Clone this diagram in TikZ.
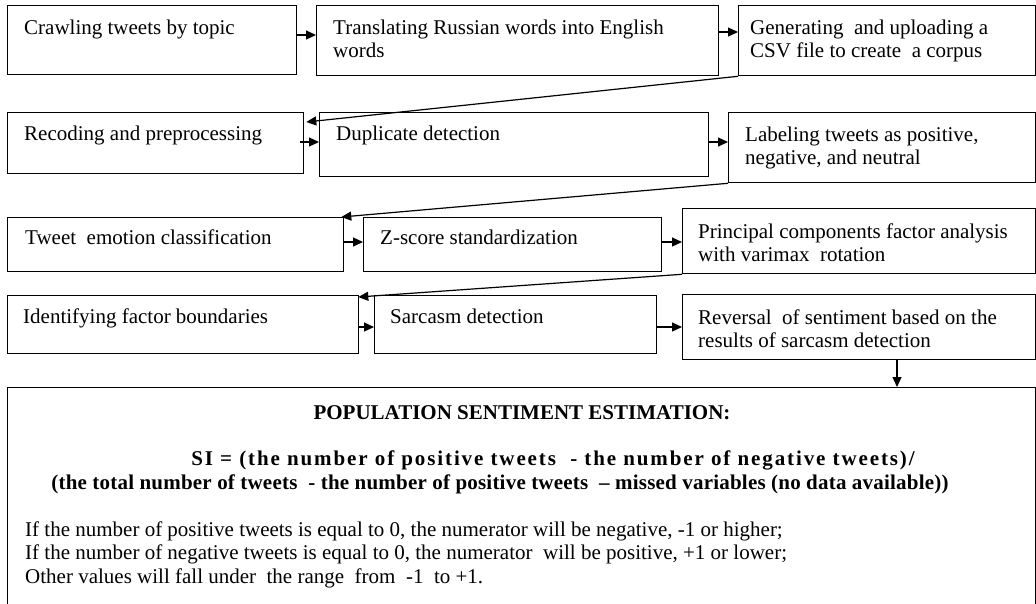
\documentclass[tikz,border=0pt]{standalone}
\usepackage{fontspec}
\setmainfont{Liberation Serif}
\usetikzlibrary{arrows.meta,calc}
\begin{document}
\begin{tikzpicture}[x=1pt,y=-1pt,
  box/.style={draw, line width=1.3pt, rectangle, inner sep=0pt, anchor=north west},
  txt/.style={anchor=base west, inner sep=0pt, font=\fontsize{21}{23}\selectfont},
  ctxt/.style={anchor=base, inner sep=0pt, font=\fontsize{21}{23}\selectfont\bfseries},
  conn/.style={line width=1.2pt, -{Triangle[length=10pt,width=9pt]}}]
\useasboundingbox (0,0) rectangle (1036,603);
\clip (0,0) rectangle (1036,603);
% boxes
\node[box, minimum width=289pt, minimum height=69pt] (A) at (7,5) {};
\node[box, minimum width=402pt, minimum height=70pt] (B) at (316,5) {};
\node[box, minimum width=297pt, minimum height=70pt] (C) at (738,5) {};
\node[box, minimum width=296pt, minimum height=61pt] (D) at (7,112) {};
\node[box, minimum width=389pt, minimum height=64pt] (E) at (319,112) {};
\node[box, minimum width=307pt, minimum height=70pt] (F) at (728,112) {};
\node[box, minimum width=336pt, minimum height=54pt] (G) at (7,217) {};
\node[box, minimum width=298pt, minimum height=54pt] (H) at (363,217) {};
\node[box, minimum width=353pt, minimum height=65pt] (I) at (682,208) {};
\node[box, minimum width=351pt, minimum height=58pt] (J) at (7,295) {};
\node[box, minimum width=282pt, minimum height=58pt] (K) at (374,295) {};
\node[box, minimum width=353pt, minimum height=65pt] (L) at (682,294) {};
\node[box, minimum width=1028pt, minimum height=218pt] (M) at (7,387) {};
% box texts
\node[txt] (tA) at ($(A.north west)+(17,29)$) {Crawling tweets by topic};
\node[txt] (tB) at ($(B.north west)+(17,29)$) {\parbox[t]{380pt}{Translating Russian words into English\\words}};
\node[txt] (tC) at ($(C.north west)+(12,29)$) {\parbox[t]{290pt}{Generating\ \ and uploading a\\CSV file to create\ \ a corpus}};
\node[txt] (tD) at ($(D.north west)+(17,28)$) {Recoding and preprocessing};
\node[txt] (tE) at ($(E.north west)+(17,28)$) {Duplicate detection};
\node[txt] (tF) at ($(F.north west)+(17,29)$) {\parbox[t]{290pt}{Labeling tweets as positive,\\negative, and neutral}};
\node[txt] (tG) at ($(G.north west)+(18,27)$) {Tweet\ \ emotion classification};
\node[txt] (tH) at ($(H.north west)+(17,27)$) {Z-score standardization};
\node[txt] (tI) at ($(I.north west)+(16,30)$) {\parbox[t]{340pt}{Principal components factor analysis\\with varimax\ \ rotation}};
\node[txt] (tJ) at ($(J.north west)+(16,28)$) {Identifying factor boundaries};
\node[txt] (tK) at ($(K.north west)+(16,28)$) {Sarcasm detection};
\node[txt] (tL) at ($(L.north west)+(16,30)$) {\parbox[t]{340pt}{Reversal\ \ of sentiment based on the\\results of sarcasm detection}};
% bottom texts
\node[ctxt] (pop) at (522,419.5) {POPULATION SENTIMENT ESTIMATION:};
\node[ctxt] (si1) at (553,465.5) {\addfontfeature{LetterSpace=9}SI = (the number of positive tweets\ \ - the number of negative tweets)/};
\node[ctxt] (si2) at (500,489) {\addfontfeature{LetterSpace=1}(the total number of tweets\ \ - the number of positive tweets\ \ – missed variables (no data available))};
\node[anchor=base west, inner sep=0pt, font=\fontsize{21}{23.5}\selectfont] (rules) at (25,536) {\parbox[t]{1000pt}{If the number of positive tweets is equal to 0, the numerator will be negative, -1 or higher;\\If the number of negative tweets is equal to 0, the numerator\ \ will be positive, +1 or lower;\\Other values will fall under\ \ the range\ \ from\ \ -1\ \ to +1.}};
% connectors
\draw[conn] ($(A.north east)+(0,30)$) -- ($(B.north west)+(0,30)$);
\draw[conn] ($(B.north east)+(0,27)$) -- ($(C.north west)+(0,27)$);
\draw[conn] (C.south west) -- ($(D.north east)+(2,10)$);
\draw[conn] ($(D.north east)+(-4,30)$) -- ($(E.north west)+(0,30)$);
\draw[conn] ($(E.north east)+(0,30)$) -- ($(F.north west)+(0,30)$);
\draw[conn] (F.south west) -- ($(G.north east)+(-3,0)$);
\draw[conn] ($(G.north east)+(0,25)$) -- ($(H.north west)+(0,25)$);
\draw[conn] ($(H.north east)+(0,25)$) -- ($(I.north west)+(0,34)$);
\draw[conn] (I.south west) -- ($(J.north east)+(-1,2)$);
\draw[conn] ($(J.north east)+(0,32)$) -- ($(K.north west)+(0,32)$);
\draw[conn] ($(K.north east)+(0,32)$) -- ($(L.north west)+(0,33)$);
\draw[conn] ($(L.south west)+(215,0)$) -- ($(M.north west)+(890,0)$);
\end{tikzpicture}
\end{document}
